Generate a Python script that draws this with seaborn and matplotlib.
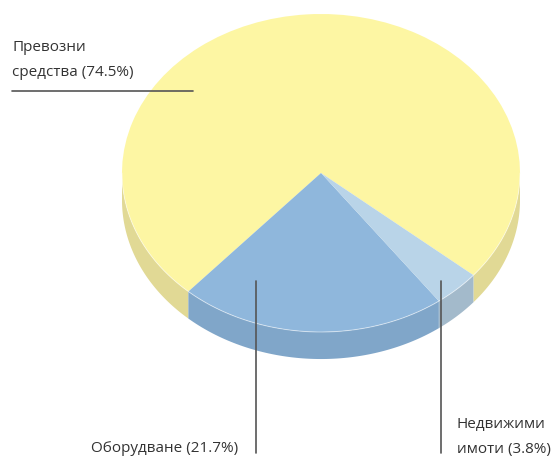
import numpy as np
import matplotlib
matplotlib.use("Agg")
import matplotlib.pyplot as plt
import seaborn as sns

# data
labels = ["Превозни\nсредства (74.5%)", "Оборудване (21.7%)", "Недвижими\nимоти (3.8%)"]
shares = [74.5, 21.7, 3.8]
top_colors = ["#fdf6a3", "#8fb7dc", "#b9d4e8"]
side_colors = ["#e1d995", "#80a6c9", "#a3bacb"]

sns.set_theme(style="white")
plt.rcParams["font.family"] = ["Open Sans", "DejaVu Sans"]

START = -40.0
DEPTH = 0.17  # pie thickness in radius units (vertical)

fig = plt.figure(figsize=(5.52, 4.57), dpi=100)
ax = fig.add_axes([0, 0, 1, 1])


def side_poly(a0, a1):
    # only the lower half of the rim is visible
    lo, hi = max(a0, -180), min(a1, 0)
    if hi <= lo:
        return None
    t = np.radians(np.linspace(lo, hi, 80))
    x = np.cos(t)
    y = np.sin(t)
    xs = np.concatenate([x, x[::-1]])
    ys = np.concatenate([y, y[::-1] - DEPTH])
    return xs, ys


# rim of the pie
a = START
for share, col in zip(shares, side_colors):
    span = share / sum(shares) * 360
    a0, a1 = a, a + span
    for off in (0, -360):
        p = side_poly(a0 + off, a1 + off)
        if p is not None:
            ax.fill(*p, color=col, lw=0)
    a = a1

# top face
wedges, _ = ax.pie(shares, colors=top_colors, startangle=START, counterclock=True,
                   wedgeprops=dict(linewidth=0))

# faint highlight where the top meets the rim
t = np.radians(np.linspace(-180, 0, 200))
ax.plot(np.cos(t), np.sin(t), color="white", lw=0.7, alpha=0.5)

# map axes to pixels: centre at (321,173), rx=199, ry=159
ax.set_aspect("auto")
ax.set_xlim((0 - 321) / 199, (552 - 321) / 199)
ax.set_ylim((173 - 457) / 159, (173 - 0) / 159)
ax.axis("off")


def px(x, y):
    return (x - 321) / 199, (173 - y) / 159


line_kw = dict(color="#555555", lw=1.2)
txt_kw = dict(color="#333333", fontsize=11, linespacing=1.9)

# labels and leader lines (va="baseline" anchors the last line)
ax.plot(*zip(px(12, 91), px(193, 91)), **line_kw)
ax.text(*px(12, 76), labels[0], ha="left", va="baseline", **txt_kw)

ax.plot(*zip(px(256, 281), px(256, 453)), **line_kw)
ax.text(*px(238, 452), labels[1], ha="right", va="baseline", **txt_kw)

ax.plot(*zip(px(441, 281), px(441, 453)), **line_kw)
ax.text(*px(457, 453), labels[2], ha="left", va="baseline", **txt_kw)

fig.savefig("out.png", dpi=100)
